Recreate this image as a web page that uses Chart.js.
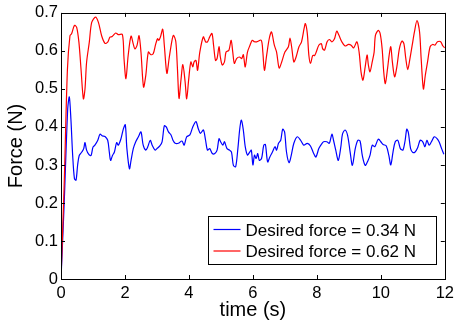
<!DOCTYPE html>
<html>
<head>
<meta charset="utf-8">
<script src="https://cdn.jsdelivr.net/npm/chart.js@4"></script>
<style>
    html, body { margin: 0; padding: 0; background: #fff; }
    #wrap { width: 459px; height: 323px; }
</style>
</head>
<body>
<div id="wrap"><canvas id="forceChart" width="459" height="323"></canvas></div>
<script>
// Data
const lowLabel = 'Desired force = 0.34 N';
const highLabel = 'Desired force = 0.62 N';

const lowTime = [0, 0.1, 0.21, 0.26, 0.31, 0.365, 0.42, 0.47, 0.52, 0.57, 0.65, 0.71, 0.75, 0.8, 0.875, 0.94,
    1.0, 1.06, 1.15, 1.22, 1.3, 1.375, 1.46, 1.51, 1.55, 1.61, 1.67, 1.74, 1.79, 1.875, 1.95,
    2.01, 2.06, 2.14, 2.19, 2.26, 2.33, 2.42, 2.5, 2.57, 2.65, 2.71, 2.79, 2.85, 2.94,
    3.0, 3.09, 3.16, 3.23, 3.29, 3.36, 3.44, 3.5, 3.57, 3.67, 3.78, 3.85, 3.93,
    4.03, 4.12, 4.22, 4.29, 4.36, 4.45, 4.52, 4.58, 4.65, 4.73, 4.81, 4.88, 4.94, 4.99,
    5.06, 5.11, 5.19, 5.27, 5.33, 5.39, 5.46, 5.53, 5.59, 5.64, 5.7, 5.76, 5.83, 5.9, 5.95,
    6.0, 6.05, 6.1, 6.15, 6.2, 6.27, 6.34, 6.39, 6.46, 6.53, 6.61, 6.69, 6.74, 6.8, 6.87, 6.93, 6.99,
    7.05, 7.13, 7.2, 7.28, 7.39, 7.49, 7.59, 7.7, 7.8, 7.9, 7.97,
    8.06, 8.14, 8.21, 8.31, 8.39, 8.47, 8.52, 8.59, 8.67, 8.75, 8.8, 8.88, 8.96,
    9.04, 9.11, 9.2, 9.28, 9.35, 9.42, 9.51, 9.59, 9.66, 9.73, 9.81, 9.92,
    10.0, 10.07, 10.17, 10.25, 10.31, 10.38, 10.45, 10.53, 10.61, 10.69, 10.76, 10.81, 10.86, 10.93,
    11.0, 11.07, 11.15, 11.23, 11.31, 11.38, 11.44, 11.51, 11.58, 11.67, 11.75, 11.82, 11.9, 11.97];
const lowForce = [0, 0.2, 0.448, 0.479, 0.42, 0.325, 0.264, 0.26, 0.3, 0.325, 0.334, 0.343, 0.359, 0.339, 0.327, 0.325,
    0.347, 0.352, 0.365, 0.381, 0.376, 0.375, 0.365, 0.334, 0.312, 0.325, 0.334, 0.359, 0.352, 0.369, 0.395,
    0.406, 0.343, 0.29, 0.312, 0.343, 0.36, 0.374, 0.387, 0.352, 0.339, 0.347, 0.365, 0.352, 0.339,
    0.343, 0.35, 0.361, 0.403, 0.4, 0.387, 0.379, 0.365, 0.357, 0.357, 0.363, 0.352, 0.374,
    0.379, 0.4, 0.414, 0.396, 0.383, 0.392, 0.365, 0.339, 0.343, 0.33, 0.33, 0.339, 0.369, 0.361,
    0.352, 0.361, 0.343, 0.339, 0.334, 0.299, 0.295, 0.343, 0.396, 0.418, 0.392, 0.348, 0.326, 0.334, 0.339,
    0.3, 0.326, 0.317, 0.33, 0.312, 0.317, 0.352, 0.354, 0.308, 0.321, 0.334, 0.348, 0.339, 0.357, 0.365, 0.394, 0.387,
    0.334, 0.306, 0.326, 0.357, 0.374, 0.365, 0.352, 0.357, 0.35, 0.33, 0.321,
    0.343, 0.354, 0.361, 0.361, 0.357, 0.381, 0.365, 0.339, 0.312, 0.348, 0.381, 0.392, 0.378,
    0.334, 0.299, 0.343, 0.365, 0.363, 0.325, 0.299, 0.31, 0.325, 0.352, 0.348, 0.368,
    0.361, 0.354, 0.35, 0.325, 0.3, 0.334, 0.361, 0.365, 0.343, 0.339, 0.365, 0.394, 0.385, 0.343,
    0.333, 0.334, 0.345, 0.365, 0.361, 0.348, 0.365, 0.352, 0.361, 0.374, 0.37, 0.361, 0.343, 0.328];

const highTime = [0, 0.1, 0.2, 0.28, 0.33, 0.42, 0.49, 0.56, 0.625, 0.7, 0.75, 0.8, 0.885, 0.96,
    1.08, 1.17, 1.27, 1.375, 1.46, 1.53, 1.6, 1.71, 1.79, 1.92, 1.97,
    2.03, 2.1, 2.19, 2.26, 2.31, 2.375, 2.44, 2.5, 2.58, 2.65, 2.73, 2.81, 2.885, 2.96,
    3.02, 3.06, 3.11, 3.18, 3.23, 3.31, 3.38, 3.47, 3.52, 3.59, 3.64, 3.69, 3.75, 3.81, 3.88, 3.93, 3.99,
    4.06, 4.12, 4.16, 4.22, 4.27, 4.34, 4.45, 4.52, 4.58, 4.65, 4.72, 4.77, 4.83, 4.88, 4.94, 4.98,
    5.04, 5.11, 5.16, 5.25, 5.32, 5.37, 5.42, 5.49, 5.58, 5.65, 5.7, 5.76, 5.83, 5.91, 5.98,
    6.05, 6.12, 6.26, 6.31, 6.36, 6.43, 6.51, 6.58, 6.67, 6.74, 6.82, 6.9,
    7.0, 7.11, 7.16, 7.21, 7.28, 7.35, 7.44, 7.52, 7.6, 7.64, 7.7, 7.75, 7.8, 7.87, 7.93, 7.98,
    8.06, 8.14, 8.18, 8.24, 8.32, 8.39, 8.47, 8.55, 8.62, 8.69, 8.78, 8.88, 8.99,
    9.07, 9.15, 9.25, 9.32, 9.38, 9.44, 9.51, 9.57, 9.61, 9.66, 9.73, 9.79, 9.83, 9.92, 9.98,
    10.04, 10.09, 10.14, 10.21, 10.26, 10.31, 10.36, 10.43, 10.5, 10.58, 10.66, 10.72, 10.78, 10.84, 10.91, 10.98,
    11.05, 11.13, 11.21, 11.26, 11.33, 11.39, 11.46, 11.54, 11.62, 11.69, 11.77, 11.87, 11.94, 12.0];
const highForce = [0, 0.25, 0.55, 0.64, 0.645, 0.667, 0.662, 0.623, 0.553, 0.474, 0.5, 0.57, 0.623, 0.675,
    0.689, 0.675, 0.64, 0.62, 0.623, 0.636, 0.638, 0.647, 0.643, 0.643, 0.58,
    0.527, 0.588, 0.639, 0.618, 0.605, 0.614, 0.64, 0.597, 0.505, 0.535, 0.597, 0.59, 0.593, 0.618,
    0.632, 0.628, 0.637, 0.657, 0.615, 0.541, 0.58, 0.628, 0.641, 0.624, 0.554, 0.475, 0.523, 0.564, 0.519, 0.474, 0.523,
    0.571, 0.558, 0.571, 0.575, 0.549, 0.597, 0.637, 0.624, 0.624, 0.637, 0.646, 0.615, 0.575, 0.58, 0.611, 0.585,
    0.563, 0.571, 0.597, 0.602, 0.628, 0.597, 0.567, 0.58, 0.584, 0.58, 0.59, 0.558, 0.597, 0.615, 0.628,
    0.624, 0.624, 0.628, 0.597, 0.549, 0.589, 0.632, 0.65, 0.615, 0.597, 0.555, 0.571,
    0.597, 0.611, 0.634, 0.611, 0.571, 0.584, 0.611, 0.624, 0.659, 0.672, 0.646, 0.588, 0.567, 0.588, 0.588, 0.597,
    0.615, 0.619, 0.606, 0.602, 0.624, 0.63, 0.624, 0.632, 0.652, 0.641, 0.624, 0.613, 0.617,
    0.615, 0.608, 0.624, 0.597, 0.545, 0.523, 0.558, 0.589, 0.563, 0.545, 0.571, 0.597, 0.641, 0.654, 0.645,
    0.606, 0.545, 0.514, 0.554, 0.589, 0.611, 0.571, 0.532, 0.558, 0.606, 0.626, 0.619, 0.58, 0.551, 0.58, 0.615,
    0.65, 0.68, 0.65, 0.58, 0.5, 0.536, 0.571, 0.611, 0.617, 0.615, 0.624, 0.624, 0.613, 0.608];

const xTicks = [0, 2, 4, 6, 8, 10, 12];
const yTicks = [0, 0.1, 0.2, 0.3, 0.4, 0.5, 0.6, 0.7];

const FONT = '"Liberation Sans", Arial, sans-serif';

function toPoints(xs, ys) {
    return xs.map((x, i) => ({ x: x, y: ys[i] }));
}

// 1. Frame and inward tick marks on all four sides
const frameTicks = {
    id: 'frameTicks',
    afterDatasetsDraw(chart) {
        const ctx = chart.ctx;
        const a = chart.chartArea;
        const xs = chart.scales.x;
        const ys = chart.scales.y;
        const len = 4;
        ctx.save();
        ctx.strokeStyle = '#000';
        ctx.lineWidth = 1;
        ctx.beginPath();
        xTicks.forEach(v => {
            const px = Math.round(xs.getPixelForValue(v)) + 0.5;
            ctx.moveTo(px, a.bottom); ctx.lineTo(px, a.bottom - len);
            ctx.moveTo(px, a.top); ctx.lineTo(px, a.top + len);
        });
        yTicks.forEach(v => {
            const py = Math.round(ys.getPixelForValue(v)) + 0.5;
            ctx.moveTo(a.left, py); ctx.lineTo(a.left + len, py);
            ctx.moveTo(a.right, py); ctx.lineTo(a.right - len, py);
        });
        ctx.stroke();
        ctx.strokeRect(Math.round(a.left) + 0.5, Math.round(a.top) + 0.5,
            Math.round(a.right - a.left), Math.round(a.bottom - a.top));
        ctx.restore();
    }
};

// 2. Legend box inside the plot (lower right)
const boxLegend = {
    id: 'boxLegend',
    afterDraw(chart) {
        const ctx = chart.ctx;
        const sets = chart.data.datasets;
        const bx = 208.5, by = 216.5, bw = 228, bh = 48;
        ctx.save();
        ctx.fillStyle = '#fff';
        ctx.fillRect(bx, by, bw, bh);
        ctx.strokeStyle = '#000';
        ctx.lineWidth = 1;
        ctx.strokeRect(bx, by, bw, bh);
        ctx.font = '17px ' + FONT;
        ctx.textBaseline = 'alphabetic';
        ctx.fillStyle = '#000';
        sets.forEach((ds, i) => {
            const y = by + 13 + i * 21.5;
            ctx.strokeStyle = ds.borderColor;
            ctx.lineWidth = 1.2;
            ctx.beginPath();
            ctx.moveTo(bx + 5, y);
            ctx.lineTo(bx + 32, y);
            ctx.stroke();
            ctx.fillText(ds.label, bx + 37, y + 6);
        });
        ctx.restore();
    }
};

const ctx = document.getElementById('forceChart').getContext('2d');

new Chart(ctx, {
    type: 'line',
    data: {
        datasets: [
            {
                label: lowLabel,
                data: toPoints(lowTime, lowForce),
                borderColor: '#0000ff',
                borderWidth: 1.2,
                pointRadius: 0,
                tension: 0.3,
                order: 1
            },
            {
                label: highLabel,
                data: toPoints(highTime, highForce),
                borderColor: '#ff0000',
                borderWidth: 1.2,
                pointRadius: 0,
                tension: 0.3,
                order: 0
            }
        ]
    },
    options: {
        responsive: false,
        animation: false,
        layout: { padding: { top: 12, right: 9, left: 0, bottom: 0 } },
        plugins: {
            legend: { display: false },
            tooltip: { enabled: false }
        },
        scales: {
            x: {
                type: 'linear',
                min: 0,
                max: 12,
                afterBuildTicks: s => { s.ticks = xTicks.map(v => ({ value: v })); },
                afterFit: s => { s.height = 44; },
                grid: { display: false, drawTicks: false },
                border: { display: false },
                ticks: { color: '#000', font: { family: FONT, size: 16.5 }, padding: 5, maxRotation: 0 },
                title: {
                    display: true,
                    text: 'time (s)',
                    color: '#000',
                    font: { family: FONT, size: 20 },
                    padding: { top: 0, bottom: 1 }
                }
            },
            y: {
                min: 0,
                max: 0.7,
                afterBuildTicks: s => { s.ticks = yTicks.map(v => ({ value: v })); },
                afterFit: s => { s.width = 61; },
                grid: { display: false, drawTicks: false },
                border: { display: false },
                ticks: { color: '#000', font: { family: FONT, size: 16.5 }, padding: 3 },
                title: {
                    display: true,
                    text: 'Force (N)',
                    color: '#000',
                    font: { family: FONT, size: 20 },
                    padding: { top: 4, bottom: 0 }
                }
            }
        }
    },
    plugins: [frameTicks, boxLegend]
});
</script>
</body>
</html>
